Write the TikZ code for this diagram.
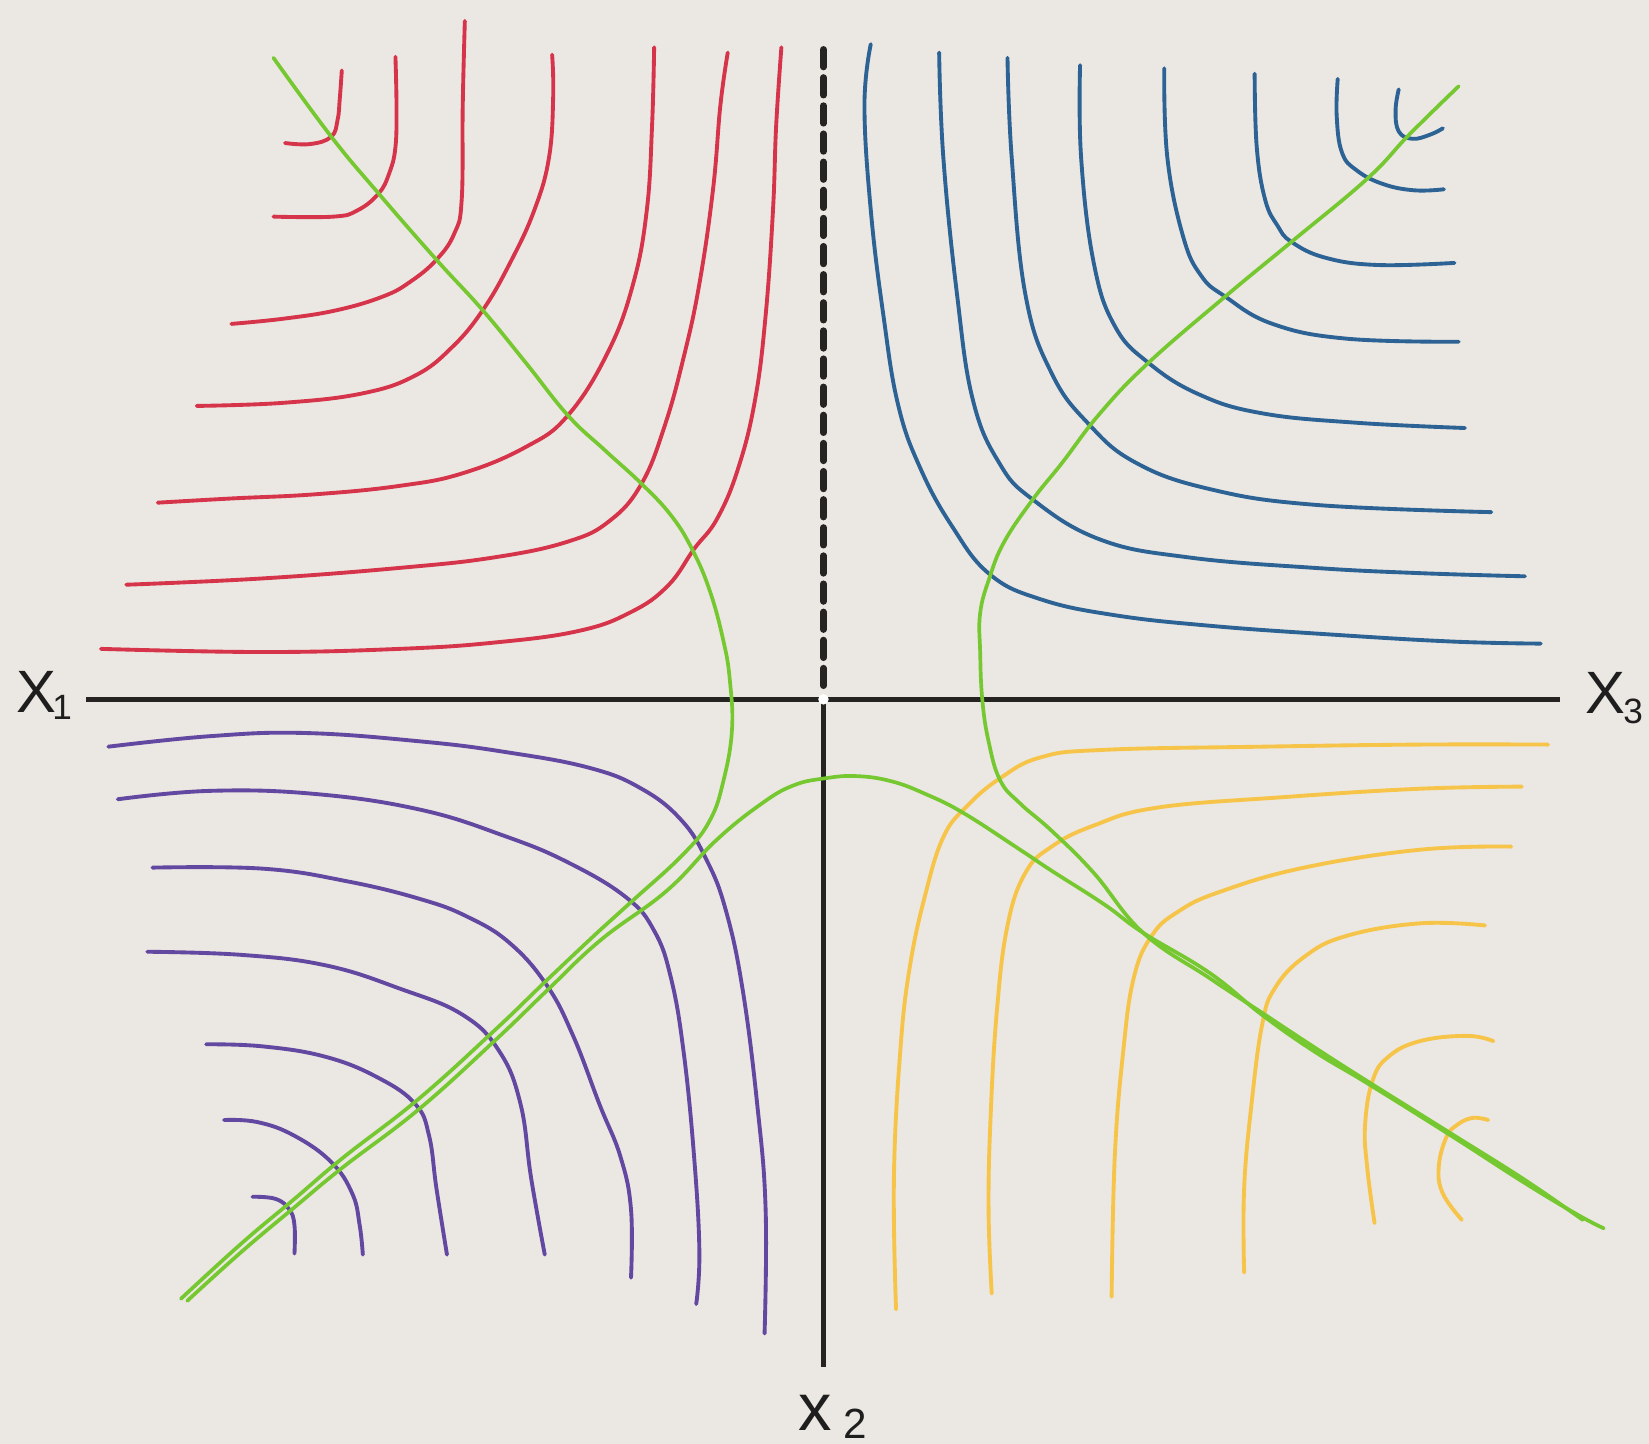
\documentclass[tikz,border=0pt]{standalone}
\usepackage{fontspec}
\setmainfont{Liberation Sans}
\definecolor{bgc}{RGB}{235,231,226}
\definecolor{redcol}{RGB}{214,52,74}
\definecolor{bluecol}{RGB}{44,98,148}
\definecolor{purcol}{RGB}{98,72,160}
\definecolor{yelcol}{RGB}{246,196,72}
\definecolor{grncol}{RGB}{118,200,48}
\definecolor{axcol}{RGB}{38,36,34}
\definecolor{txtcol}{RGB}{30,30,30}
\begin{document}
\begin{tikzpicture}[x=0.010517cm, y=-0.010517cm,
  curve/.style={line width=1.1pt, line cap=round, line join=round},
  redc/.style={curve, draw=redcol},
  bluec/.style={curve, draw=bluecol},
  purc/.style={curve, draw=purcol},
  yelc/.style={curve, draw=yelcol},
  grnc/.style={curve, line width=1.05pt, draw=grncol},
  axis/.style={line width=1.45pt, draw=axcol},
  dashaxis/.style={line width=1.9pt, draw=axcol, dash pattern=on 5pt off 3pt, line cap=round},
  lbl/.style={inner sep=0pt, text=txtcol},
  sm/.style={smooth, tension=0.7}]
\fill[bgc] (0,0) rectangle (1568,1373);
\useasboundingbox (0,0) rectangle (1568,1373);

% axes
\coordinate (L) at (82,665);
\coordinate (R) at (1483,665);
\coordinate (O) at (783,665);
\coordinate (B) at (783,1300);
\coordinate (T) at (783,47);
\coordinate (Tb) at (783,652);
\draw[axis] (L) -- (R);
\draw[axis] (O) -- (B);
\draw[dashaxis] (T) -- (Tb);
\fill[white] (O) circle (5);

% red curves
\draw[redc] plot[sm] coordinates {(325,67) (323,95) (321,114) (315,130) (295,137) (271,136)};
\draw[redc] plot[sm] coordinates {(376,54) (377,100) (376,140) (370,165) (360,184) (340,200) (317,206) (260,206)};
\draw[redc] plot[sm] coordinates {(442,20) (440,100) (439,190) (432,222) (415,247) (390,268) (364,282) (320,295) (270,303) (220,308)};
\draw[redc] plot[sm] coordinates {(525,52) (526,92) (522,150) (508,200) (485,250) (459,295) (430,330) (395,357) (345,374) (270,383) (187,386)};
\draw[redc] plot[sm] coordinates {(622,45) (620,120) (615,200) (602,270) (578,335) (540,395) (500,425) (440,450) (380,462) (300,470) (220,474) (150,478)};
\draw[redc] plot[sm] coordinates {(692,50) (685,100) (678,180) (665,270) (650,340) (632,405) (610,460) (580,495) (540,515) (470,530) (380,540) (250,550) (120,556)};
\draw[redc] plot[sm] coordinates {(743,45) (738,120) (735,200) (728,300) (718,380) (702,445) (682,493) (660,522) (635,557) (600,582) (550,600) (470,611) (380,617) (250,620) (96,617)};

% blue curves
\draw[bluec] plot[sm] coordinates {(1330,85) (1327,105) (1330,125) (1343,132) (1360,128) (1372,122)};
\draw[bluec] plot[sm] coordinates {(1272,75) (1271,110) (1276,145) (1290,162) (1315,175) (1345,181) (1373,180)};
\draw[bluec] plot[sm] coordinates {(1193,70) (1195,140) (1203,190) (1215,215) (1228,230) (1260,245) (1310,252) (1383,250)};
\draw[bluec] plot[sm] coordinates {(1107,65) (1110,150) (1125,225) (1142,262) (1165,282) (1210,308) (1280,322) (1387,325)};
\draw[bluec] plot[sm] coordinates {(1027,62) (1028,150) (1040,250) (1060,310) (1092,345) (1140,375) (1200,393) (1290,402) (1393,407)};
\draw[bluec] plot[sm] coordinates {(958,55) (962,150) (975,280) (1000,355) (1035,403) (1080,440) (1150,465) (1250,480) (1418,487)};
\draw[bluec] plot[sm] coordinates {(893,50) (897,150) (910,280) (925,380) (950,440) (982,475) (1046,513) (1130,530) (1250,540) (1350,545) (1450,548)};
\draw[bluec] plot[sm] coordinates {(828,42) (822,100) (828,200) (840,300) (854,385) (875,445) (905,500) (941,546) (990,570) (1060,585) (1150,595) (1260,603) (1380,610) (1465,612)};

% purple curves
\draw[purc] plot[sm] coordinates {(240,1138) (262,1140) (275,1150) (280,1165) (280,1192)};
\draw[purc] plot[sm] coordinates {(213,1065) (245,1067) (280,1080) (315,1105) (335,1135) (342,1165) (345,1193)};
\draw[purc] plot[sm] coordinates {(196,993) (250,995) (310,1005) (360,1025) (395,1050) (408,1080) (415,1130) (425,1193)};
\draw[purc] plot[sm] coordinates {(140,905) (230,908) (310,918) (380,940) (440,965) (475,1000) (495,1050) (505,1120) (518,1193)};
\draw[purc] plot[sm] coordinates {(145,825) (250,826) (330,838) (400,855) (445,872) (485,897) (520,937) (545,985) (570,1050) (590,1100) (600,1150) (600,1215)};
\draw[purc] plot[sm] coordinates {(112,760) (200,752) (300,755) (400,770) (480,795) (540,820) (595,853) (622,885) (638,930) (650,1000) (660,1100) (665,1190) (662,1240)};
\draw[purc] plot[sm] coordinates {(103,710) (200,700) (290,697) (400,705) (480,715) (560,730) (610,750) (648,780) (672,818) (690,865) (706,940) (720,1050) (728,1150) (727,1268)};

% yellow curves
\draw[yelc] plot[sm] coordinates {(1415,1065) (1400,1063) (1385,1070) (1375,1082) (1368,1110) (1372,1135) (1390,1160)};
\draw[yelc] plot[sm] coordinates {(1420,990) (1395,985) (1350,990) (1320,1005) (1305,1028) (1298,1070) (1300,1110) (1307,1163)};
\draw[yelc] plot[sm] coordinates {(1412,880) (1350,878) (1280,890) (1240,910) (1212,940) (1200,975) (1190,1050) (1183,1130) (1183,1210)};
\draw[yelc] plot[sm] coordinates {(1437,805) (1350,808) (1240,825) (1160,848) (1120,867) (1095,890) (1078,930) (1068,1000) (1060,1100) (1057,1233)};
\draw[yelc] plot[sm] coordinates {(1447,748) (1350,750) (1220,758) (1100,768) (1040,785) (1000,805) (975,830) (958,880) (948,960) (942,1060) (940,1150) (943,1230)};
\draw[yelc] plot[sm] coordinates {(1472,708) (1350,708) (1200,710) (1050,713) (990,720) (951,740) (919,767) (897,796) (880,850) (865,920) (856,1000) (850,1120) (852,1245)};

% green curves
\draw[grnc] plot[sm] coordinates {(260,55) (315,130) (360,184) (415,247) (459,295) (500,345) (540,395) (575,428) (610,460) (638,490) (658,522) (675,562) (688,610) (694,647) (696,694) (688,742) (675,780) (650,812) (602,856) (571,884) (520,932) (470,980) (398,1045) (326,1101) (280,1140) (230,1182) (172,1235)};
\draw[grnc] plot[sm] coordinates {(178,1237) (230,1190) (280,1148) (326,1110) (398,1055) (470,990) (520,942) (571,894) (634,847) (681,799) (723,765) (754,747) (785,740) (815,738) (848,743) (880,755) (916,773) (970,808) (1000,828) (1050,860) (1087,887) (1150,925) (1200,965) (1250,1000) (1300,1030) (1380,1080) (1450,1125) (1500,1155) (1525,1168)};
\draw[grnc] plot[sm] coordinates {(1387,82) (1340,128) (1300,170) (1228,230) (1165,282) (1092,345) (1046,393) (1010,440) (982,475) (955,515) (941,549) (932,583) (932,620) (934,665) (940,705) (951,742) (970,764) (1000,790) (1040,830) (1087,887) (1150,930) (1200,963) (1250,996) (1300,1028) (1380,1078) (1450,1122) (1505,1160)};

% labels
\node[lbl, font=\fontsize{17}{17}\selectfont] (x1) at (35,658) {X};
\node[lbl, font=\fontsize{10}{10}\selectfont] (x1s) at (59,673) {1};
\node[lbl, font=\fontsize{17}{17}\selectfont] (x3) at (1527,659) {X};
\node[lbl, font=\fontsize{10}{10}\selectfont] (x3s) at (1553,676) {3};
\node[lbl, font=\fontsize{19}{19}\selectfont] (x2) at (775,1343) {x};
\node[lbl, font=\fontsize{12}{12}\selectfont] (x2s) at (813,1354) {2};
\end{tikzpicture}
\end{document}
